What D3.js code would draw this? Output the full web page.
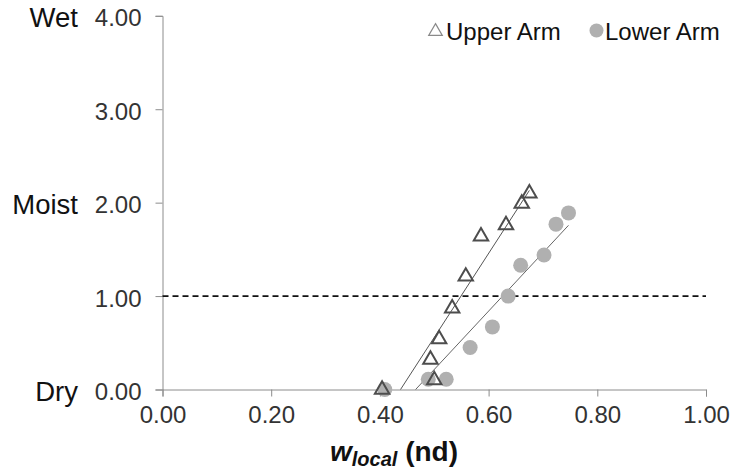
<!DOCTYPE html>
<html>
<head>
<meta charset="utf-8">
<script src="https://cdn.jsdelivr.net/npm/d3@7"></script>
<style>
  html, body { margin: 0; padding: 0; background: #fff; }
  svg { display: block; font-family: "Liberation Sans", Arial, sans-serif; }
</style>
</head>
<body>
<svg id="chart" width="730" height="473"></svg>
<script>
// Moisture rating versus local sweat fraction
const upperArmX = [0.404, 0.500, 0.493, 0.509, 0.533, 0.558, 0.586, 0.632, 0.661, 0.675];
const upperArmY = [0.00, 0.10, 0.32, 0.54, 0.87, 1.21, 1.64, 1.76, 1.99, 2.10];
const lowerArmX = [0.409, 0.489, 0.522, 0.566, 0.607, 0.636, 0.659, 0.702, 0.724, 0.747];
const lowerArmY = [0.00, 0.11, 0.11, 0.45, 0.67, 1.00, 1.33, 1.44, 1.77, 1.89];
const xTicks = [0, 0.2, 0.4, 0.6, 0.8, 1.0];
const yTicks = [0, 1, 2, 3, 4];
const sensationLabels = [["Wet", 4], ["Moist", 2], ["Dry", 0]];
const thresholdY = 1;
const seriesNames = ["Upper Arm", "Lower Arm"];

const svg = d3.select("#chart");
const x = d3.scaleLinear().domain([0, 1]).range([162.5, 706]);
const y = d3.scaleLinear().domain([0, 4]).range([389.5, 15.8]);

const axisColor = "#8c8c8c";
const tickFont = "24px";

// clip region for the plot area
svg.append("defs").append("clipPath").attr("id", "plot")
  .append("rect").attr("x", x(0)).attr("y", y(4)).attr("width", x(1) - x(0)).attr("height", y(0) - y(4));

// y axis
const yAxis = svg.append("g").attr("transform", `translate(${x(0)},0)`)
  .call(d3.axisLeft(y).tickValues(yTicks).tickFormat(d3.format(".2f")).tickSize(7).tickPadding(14));
// x axis
const xAxis = svg.append("g").attr("transform", `translate(0,${y(0)})`)
  .call(d3.axisBottom(x).tickValues(xTicks).tickFormat(d3.format(".2f")).tickSize(7).tickPadding(9));
[yAxis, xAxis].forEach(g => {
  g.select(".domain").attr("stroke", axisColor).attr("stroke-width", 1);
  g.selectAll(".tick line").attr("stroke", axisColor);
  g.selectAll(".tick text").attr("fill", "#333").style("font-size", tickFont)
    .style("font-family", "'Liberation Sans', Arial, sans-serif");
});
yAxis.selectAll(".tick text").attr("dy", "0.42em");
xAxis.selectAll(".tick text").attr("dy", "0.72em");

// sensation labels
svg.append("g").selectAll("text").data(sensationLabels).join("text")
  .attr("x", 78).attr("y", d => y(d[1]))
  .attr("dy", "0.42em").attr("text-anchor", "end")
  .style("font-size", "27.5px").attr("fill", "#111")
  .text(d => d[0]);

// threshold line
svg.append("line")
  .attr("x1", x(0)).attr("x2", x(1)).attr("y1", y(thresholdY)).attr("y2", y(thresholdY))
  .attr("stroke", "#111").attr("stroke-width", 1.6).attr("stroke-dasharray", "6,4");

// least-squares fit over each series' x range
function fit(xs, ys) {
  const mx = d3.mean(xs), my = d3.mean(ys);
  const sxy = d3.sum(xs, (v, i) => (v - mx) * (ys[i] - my));
  const sxx = d3.sum(xs, v => (v - mx) * (v - mx));
  const b = sxy / sxx, a = my - b * mx;
  const x0 = d3.min(xs), x1 = d3.max(xs);
  return [[x0, a + b * x0], [x1, a + b * x1]];
}
const line = d3.line().x(d => x(d[0])).y(d => y(d[1]));
const fits = svg.append("g").attr("clip-path", "url(#plot)");
fits.append("path").attr("d", line(fit(upperArmX, upperArmY)))
  .attr("fill", "none").attr("stroke", "#555").attr("stroke-width", 1);
fits.append("path").attr("d", line(fit(lowerArmX, lowerArmY)))
  .attr("fill", "none").attr("stroke", "#666").attr("stroke-width", 1);

// lower arm points
const lower = d3.zip(lowerArmX, lowerArmY);
svg.append("g").selectAll("circle").data(lower).join("circle")
  .attr("cx", d => x(d[0])).attr("cy", d => y(d[1])).attr("r", 7.5)
  .attr("fill", "#b0b0b0");

// upper arm points
const upper = d3.zip(upperArmX, upperArmY);
const tri = d3.symbol().type(d3.symbolTriangle).size(90);
svg.append("g").selectAll("path").data(upper).join("path")
  .attr("transform", d => `translate(${x(d[0])},${y(d[1])})`)
  .attr("d", tri).attr("fill", "none").attr("stroke", "#4d4d4d").attr("stroke-width", 2);

// legend
const legend = svg.append("g");
legend.append("path").attr("transform", "translate(435.5,31.5)")
  .attr("d", d3.symbol().type(d3.symbolTriangle).size(80))
  .attr("fill", "none").attr("stroke", "#8a8a8a").attr("stroke-width", 1.2);
legend.append("text").attr("x", 446).attr("y", 31).attr("dy", "0.37em")
  .style("font-size", "24px").attr("fill", "#111").text(seriesNames[0]);
legend.append("circle").attr("cx", 596.5).attr("cy", 30.5).attr("r", 7).attr("fill", "#b0b0b0");
legend.append("text").attr("x", 605).attr("y", 31).attr("dy", "0.37em")
  .style("font-size", "24px").attr("fill", "#111").text(seriesNames[1]);

// x axis title
const title = svg.append("text").attr("x", 394).attr("y", 461).attr("text-anchor", "middle")
  .style("font-size", "28px").style("font-weight", "bold").attr("fill", "#111");
title.append("tspan").style("font-style", "italic").text("w");
title.append("tspan").style("font-style", "italic").style("font-size", "20px").attr("dy", 5).text("local");
title.append("tspan").attr("dy", -5).text(" (nd)");
</script>
</body>
</html>
